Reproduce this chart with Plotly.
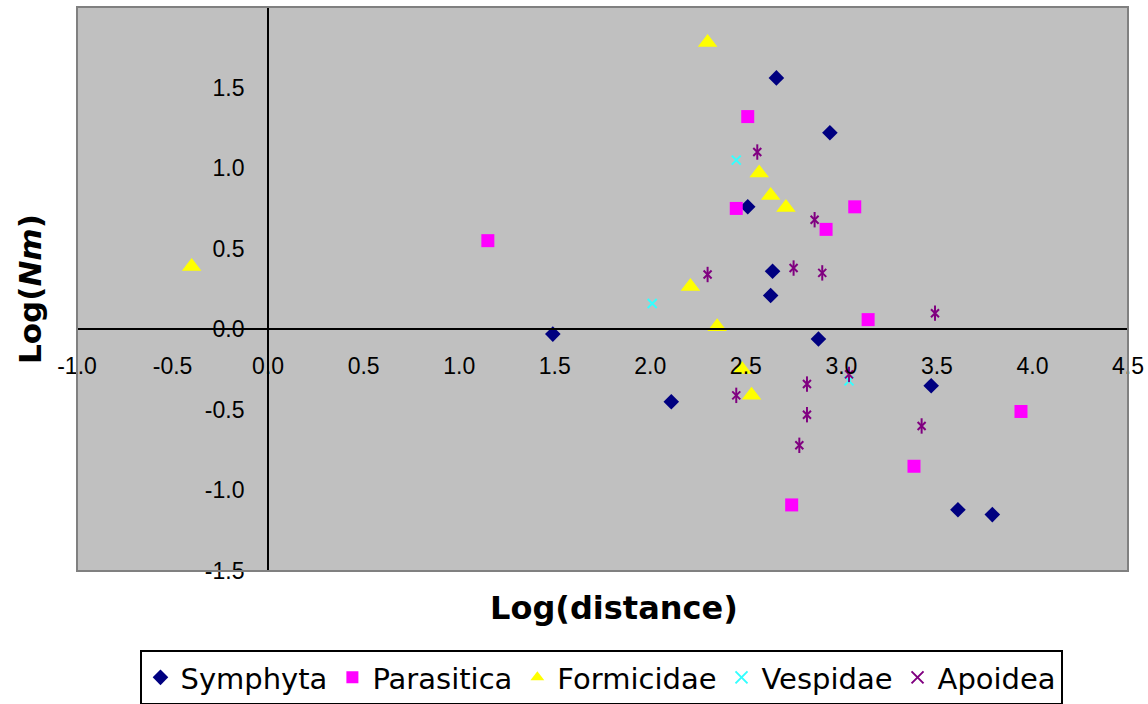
import plotly.graph_objects as go

# ---- data ----
sym_x = [1.49, 2.11, 2.66, 2.94, 2.51, 2.64, 2.63, 2.88, 3.47, 3.61, 3.79]
sym_y = [-0.03, -0.45, 1.56, 1.22, 0.76, 0.36, 0.21, -0.06, -0.35, -1.12, -1.15]

par_x = [1.15, 2.51, 2.45, 3.07, 2.92, 3.14, 3.94, 3.38, 2.74]
par_y = [0.55, 1.32, 0.75, 0.76, 0.62, 0.06, -0.51, -0.85, -1.09]

for_x = [-0.40, 2.30, 2.57, 2.63, 2.71, 2.21, 2.35, 2.48, 2.53]
for_y = [0.39, 1.78, 0.97, 0.83, 0.755, 0.265, 0.015, -0.25, -0.41]

ves_x = [2.45, 2.01, 3.04]
ves_y = [1.05, 0.16, -0.32]

apo_x = [2.56, 2.30, 2.75, 2.86, 2.90, 3.49, 2.45, 2.82, 2.82, 2.78, 3.42, 3.04]
apo_y = [1.10, 0.34, 0.38, 0.68, 0.35, 0.10, -0.41, -0.34, -0.53, -0.72, -0.60, -0.28]

x_ticks = [-1.0, -0.5, 0.0, 0.5, 1.0, 1.5, 2.0, 2.5, 3.0, 3.5, 4.0, 4.5]
y_ticks = [-1.5, -1.0, -0.5, 0.0, 0.5, 1.0, 1.5]
x_ticktext = ["-1.0", "-0.5", "0.0", "0.5", "1.0", "1.5", "2.0", "2.5", "3.0", "3.5", "4.0", "4.5"]
y_ticktext = ["-1.5", "-1.0", "-0.5", "0.0", "0.5", "1.0", "1.5"]
x_range = [-1.0, 4.5]
y_range = [-1.5, 2.0]

fig = go.Figure()
fig.add_trace(go.Scatter(x=sym_x, y=sym_y, mode="markers", name="Symphyta",
                         marker=dict(symbol="diamond", size=12, color="#000080")))
fig.add_trace(go.Scatter(x=par_x, y=par_y, mode="markers", name="Parasitica",
                         marker=dict(symbol="square", size=13, color="#FF00FF")))
fig.add_trace(go.Scatter(x=for_x, y=for_y, mode="markers", name="Formicidae",
                         marker=dict(symbol="triangle-up", size=17, color="#FFFF00")))
fig.add_trace(go.Scatter(x=ves_x, y=ves_y, mode="markers", name="Vespidae",
                         marker=dict(symbol="x-thin-open", size=9, color="#33FFFF",
                                     line=dict(width=2, color="#33FFFF"))))
fig.add_trace(go.Scatter(x=apo_x, y=apo_y, mode="markers", name="Apoidea", legendgroup="apo",
                         marker=dict(symbol="x-thin-open", size=8, color="#800080",
                                     line=dict(width=2, color="#800080"))))
fig.add_trace(go.Scatter(x=apo_x, y=apo_y, mode="markers", name="Apoidea", legendgroup="apo",
                         showlegend=False,
                         marker=dict(symbol="line-ns-open", size=11, color="#800080",
                                     line=dict(width=2, color="#800080"))))

tick_font = dict(family="Arial", size=23, color="#000000")

fig.update_layout(
    width=1148, height=704,
    margin=dict(l=77, r=20, t=7, b=133, autoexpand=False),
    paper_bgcolor="#FFFFFF",
    plot_bgcolor="#C0C0C0",
    showlegend=True,
    xaxis=dict(range=x_range, tickvals=x_ticks, ticktext=x_ticktext,
               anchor="free", position=(0 - y_range[0]) / (y_range[1] - y_range[0]),
               showline=True, linecolor="#000000", linewidth=2,
               showgrid=False, zeroline=False, ticks="", ticklabelstandoff=16,
               tickfont=tick_font),
    yaxis=dict(range=y_range, tickvals=y_ticks, ticktext=y_ticktext,
               anchor="free", position=(0 - x_range[0]) / (x_range[1] - x_range[0]),
               showline=True, linecolor="#000000", linewidth=2,
               showgrid=False, zeroline=False, ticks="", ticklabelstandoff=18,
               tickfont=tick_font),
    legend=dict(orientation="h", x=0.4995, xanchor="center", y=(571 - 650) / 564, yanchor="top",
                bgcolor="#FFFFFF", bordercolor="#000000", borderwidth=2,
                font=dict(family="DejaVu Sans", size=29, color="#000000"),
                itemsizing="constant", itemwidth=30),
    shapes=[dict(type="rect", xref="paper", yref="paper", x0=0, y0=0, x1=1, y1=1,
                 line=dict(color="#808080", width=2), fillcolor="rgba(0,0,0,0)",
                 layer="above")],
    annotations=[
        dict(text="<b>Log(distance)</b>", xref="paper", yref="paper",
             x=(614 - 77) / 1051, y=(571 - 608) / 564, xanchor="center", yanchor="middle",
             showarrow=False, font=dict(family="DejaVu Sans", size=32, color="#000000")),
        dict(text="<b>Log(<i>Nm</i>)</b>", xref="paper", yref="paper",
             x=(30 - 77) / 1051, y=0.5, xanchor="center", yanchor="middle", textangle=-90,
             showarrow=False, font=dict(family="DejaVu Sans", size=31, color="#000000")),
    ],
)

fig.write_html("out.html")
